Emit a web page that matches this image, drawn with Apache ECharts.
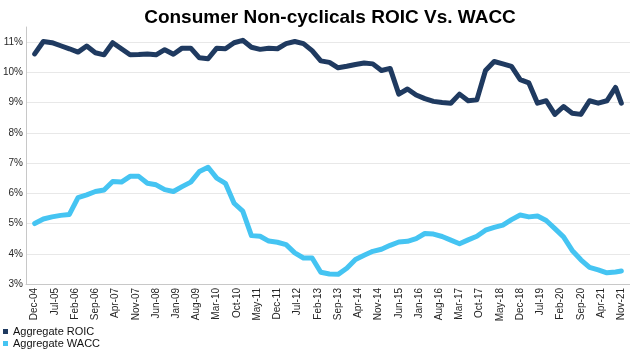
<!DOCTYPE html>
<html>
<head>
<meta charset="utf-8">
<script src="https://cdn.jsdelivr.net/npm/echarts@6/dist/echarts.min.js"></script>
<style>
  html, body { margin: 0; padding: 0; background: #fff; }
  #chart { width: 630px; height: 351px; }
</style>
</head>
<body>
<div id="chart"></div>
<script>
// quarterly observation dates (last point is Nov-21)
const pointDates = [
  "Dec-04", "Mar-05", "Jun-05", "Sep-05", "Dec-05", "Mar-06", "Jun-06", "Sep-06",
  "Dec-06", "Mar-07", "Jun-07", "Sep-07", "Dec-07", "Mar-08", "Jun-08", "Sep-08",
  "Dec-08", "Mar-09", "Jun-09", "Sep-09", "Dec-09", "Mar-10", "Jun-10", "Sep-10",
  "Dec-10", "Mar-11", "Jun-11", "Sep-11", "Dec-11", "Mar-12", "Jun-12", "Sep-12",
  "Dec-12", "Mar-13", "Jun-13", "Sep-13", "Dec-13", "Mar-14", "Jun-14", "Sep-14",
  "Dec-14", "Mar-15", "Jun-15", "Sep-15", "Dec-15", "Mar-16", "Jun-16", "Sep-16",
  "Dec-16", "Mar-17", "Jun-17", "Sep-17", "Dec-17", "Mar-18", "Jun-18", "Sep-18",
  "Dec-18", "Mar-19", "Jun-19", "Sep-19", "Dec-19", "Mar-20", "Jun-20", "Sep-20",
  "Dec-20", "Mar-21", "Jun-21", "Sep-21", "Nov-21"
];

// Aggregate ROIC (%)
const roic = [
  10.61, 11.02, 10.98, 10.88, 10.78, 10.67, 10.87, 10.65,
  10.58, 10.98, 10.78, 10.58, 10.59, 10.61, 10.58, 10.75,
  10.60, 10.80, 10.80, 10.48, 10.45, 10.80, 10.78, 10.98,
  11.06, 10.83, 10.76, 10.80, 10.78, 10.95, 11.02, 10.95,
  10.72, 10.38, 10.33, 10.15, 10.20, 10.26, 10.31, 10.28,
  10.06, 10.13, 9.28, 9.45, 9.25, 9.13, 9.04, 9.00,
  8.98, 9.28, 9.06, 9.09, 10.06, 10.36, 10.28, 10.20,
  9.76, 9.65, 8.98, 9.06, 8.61, 8.87, 8.65, 8.61,
  9.06, 8.98, 9.06, 9.50, 8.98
];

// Aggregate WACC (%)
const wacc = [
  5.00, 5.15, 5.22, 5.27, 5.30, 5.86, 5.95, 6.06,
  6.11, 6.39, 6.37, 6.56, 6.56, 6.33, 6.28, 6.12,
  6.06, 6.22, 6.37, 6.72, 6.86, 6.50, 6.33, 5.67,
  5.41, 4.60, 4.58, 4.42, 4.38, 4.30, 4.03, 3.86,
  3.86, 3.39, 3.33, 3.32, 3.52, 3.81, 3.95, 4.08,
  4.15, 4.28, 4.39, 4.41, 4.50, 4.67, 4.65, 4.57,
  4.45, 4.33, 4.46, 4.58, 4.78, 4.87, 4.95, 5.13,
  5.28, 5.22, 5.25, 5.10, 4.83, 4.56, 4.11, 3.80,
  3.55, 3.47, 3.37, 3.40, 3.43
];

const yTicks = { min: 3, max: 11.5, step: 1 };

// monthly category axis, Sep-04 .. Feb-22
const monthNames = ["Jan", "Feb", "Mar", "Apr", "May", "Jun", "Jul", "Aug", "Sep", "Oct", "Nov", "Dec"];
const months = [];
for (let y = 2004, m = 8; y < 2022 || m <= 1; ) {
  months.push(monthNames[m] + "-" + String(y % 100).padStart(2, "0"));
  m++;
  if (m === 12) { m = 0; y++; }
}
const firstLabel = months.indexOf("Dec-04");
const lastLabel = months.indexOf("Nov-21");

const pairs = (vals) => pointDates.map((d, i) => [d, vals[i]]);

const option = {
  animation: false,
  backgroundColor: "#fff",
  title: {
    text: "Consumer Non-cyclicals ROIC Vs. WACC",
    left: 325,
    textAlign: "center",
    top: 3,
    textStyle: { fontFamily: "Liberation Sans", fontSize: 19, fontWeight: "bold", color: "#000" },
  },
  legend: {
    orient: "vertical",
    left: 3,
    top: 326,
    padding: 0,
    icon: "rect",
    itemWidth: 5,
    itemHeight: 5,
    itemGap: 1,
    textStyle: { fontFamily: "Liberation Sans", fontSize: 11, color: "#111", lineHeight: 11 },
    data: ["Aggregate ROIC", "Aggregate WACC"],
  },
  grid: { left: 22, right: 0, top: 27, bottom: 67 },
  xAxis: {
    type: "category",
    data: months,
    boundaryGap: false,
    axisLine: { lineStyle: { color: "#c8c8c8" } },
    axisTick: { show: false },
    axisLabel: {
      rotate: 90,
      margin: 4,
      fontFamily: "Liberation Sans",
      fontSize: 10,
      color: "#262626",
      interval: (i) => i >= firstLabel && i <= lastLabel && (i - firstLabel) % 7 === 0,
    },
    splitLine: { show: false },
  },
  yAxis: {
    type: "value",
    min: yTicks.min,
    max: yTicks.max,
    interval: yTicks.step,
    axisLine: { show: true, lineStyle: { color: "#c8c8c8" } },
    axisTick: { show: false },
    axisLabel: {
      margin: 3,
      showMaxLabel: false,
      fontFamily: "Liberation Sans",
      fontSize: 10,
      color: "#262626",
      formatter: (v) => v + "%",
    },
    splitLine: { showMaxLine: false, lineStyle: { color: "#e8e8e8" } },
  },
  series: [
    {
      name: "Aggregate ROIC",
      type: "line",
      data: pairs(roic),
      symbol: "none",
      color: "#1F3A60",
      lineStyle: { width: 5, color: "#1F3A60", cap: "round", join: "round" },
    },
    {
      name: "Aggregate WACC",
      type: "line",
      data: pairs(wacc),
      symbol: "none",
      color: "#45C4F2",
      lineStyle: { width: 5, color: "#45C4F2", cap: "round", join: "round" },
    },
  ],
};

const chart = echarts.init(document.getElementById("chart"));
chart.setOption(option);
</script>
</body>
</html>
